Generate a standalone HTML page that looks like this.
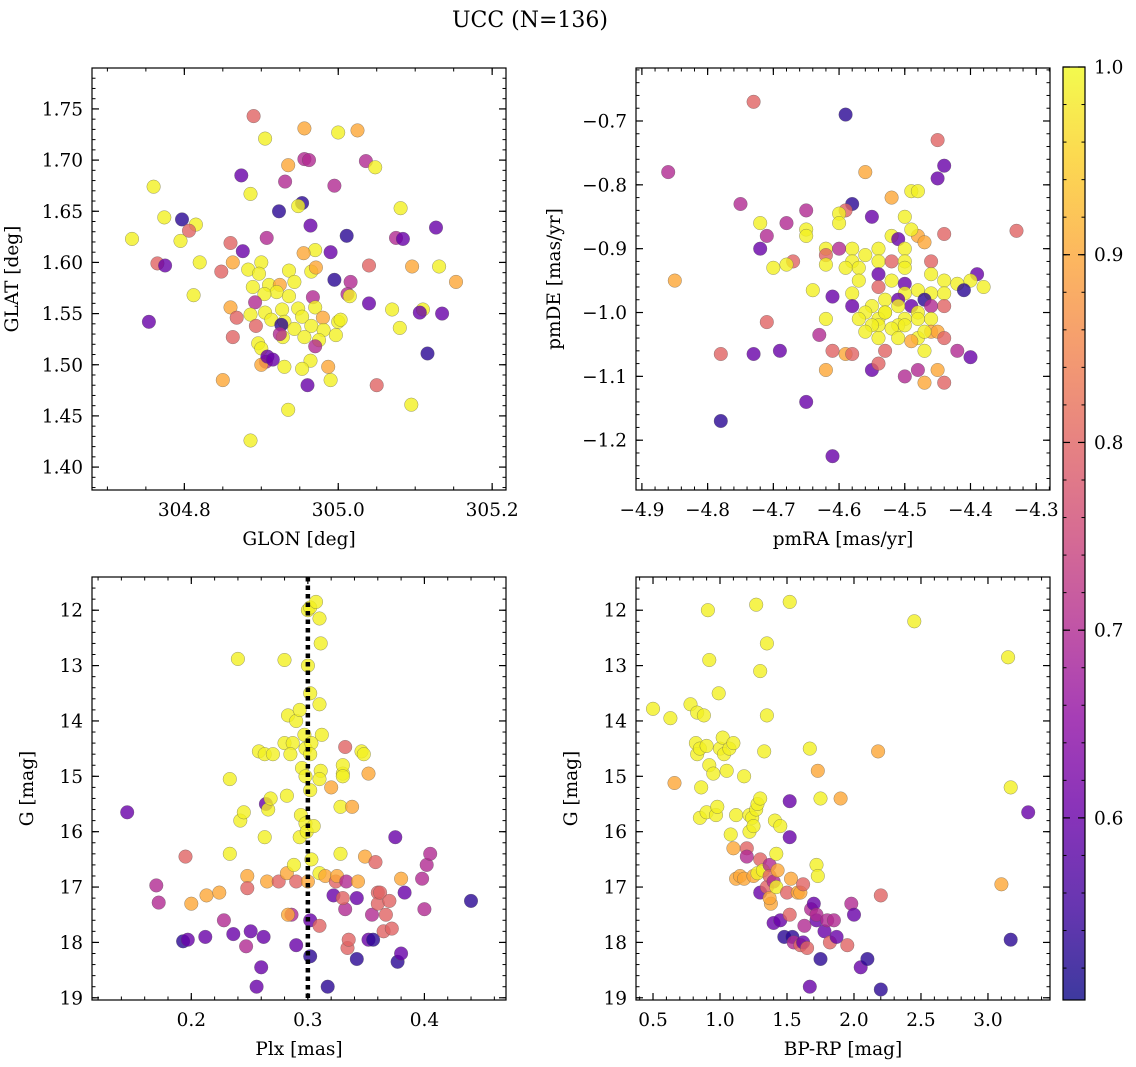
<!DOCTYPE html>
<html><head><meta charset="utf-8">
<style>
html,body{margin:0;padding:0;background:#fff;}
svg{display:block;font-family:"DejaVu Serif","Liberation Serif",serif;}
</style></head>
<body>
<svg id="chart" width="1136" height="1067" viewBox="0 0 1136 1067" xmlns="http://www.w3.org/2000/svg">
<defs>
<linearGradient id="cbgrad" x1="0" y1="1" x2="0" y2="0">
<stop offset="0" stop-color="#0d0887"/><stop offset="0.1" stop-color="#41049d"/><stop offset="0.2" stop-color="#6a00a8"/><stop offset="0.3" stop-color="#8f0da4"/><stop offset="0.4" stop-color="#b12a90"/><stop offset="0.5" stop-color="#cc4778"/><stop offset="0.6" stop-color="#e16462"/><stop offset="0.7" stop-color="#f2844b"/><stop offset="0.8" stop-color="#fca636"/><stop offset="0.9" stop-color="#fcce25"/><stop offset="1" stop-color="#f0f921"/>
</linearGradient>
</defs>
<text x="530" y="27" font-size="22" text-anchor="middle">UCC (N=136)</text>
</svg>
<script>
// color codes: Y=0.99, O=0.9, P=0.8, M=0.7, V=0.6, B=0.53
const Y=0.99,O=0.9,P=0.8,M=0.7,V=0.6,B=0.53;
const cMin=0.503, cMax=1.0;
const cbTicks=[0.6,0.7,0.8,0.9,1.0];

const glonGlat=[[304.89,1.743,P],[304.956,1.731,O],[305.025,1.729,O],[305.0,1.727,Y],[304.905,1.721,Y],[304.956,1.701,M],[304.962,1.700,M],[305.036,1.699,M],[305.048,1.693,Y],[304.935,1.695,O],[304.931,1.679,M],[304.874,1.685,V],[304.995,1.675,M],[304.760,1.674,Y],[304.886,1.667,Y],[304.953,1.658,B],[304.948,1.655,Y],[305.081,1.653,Y],[304.923,1.650,B],[304.797,1.642,B],[304.774,1.644,Y],[305.127,1.634,V],[304.815,1.637,Y],[304.806,1.631,P],[304.964,1.636,V],[304.732,1.623,Y],[305.011,1.626,B],[304.907,1.624,M],[304.795,1.621,Y],[304.860,1.619,P],[305.075,1.624,M],[305.084,1.623,V],[304.876,1.611,V],[304.970,1.612,Y],[304.955,1.609,O],[304.765,1.599,P],[304.775,1.597,V],[304.820,1.600,Y],[304.863,1.600,O],[304.9,1.6,Y],[304.99,1.61,V],[305.04,1.597,P],[305.096,1.596,O],[305.131,1.596,Y],[305.153,1.581,O],[304.848,1.591,P],[304.883,1.593,Y],[304.897,1.589,Y],[304.936,1.592,Y],[304.965,1.591,Y],[304.971,1.595,O],[304.995,1.583,B],[305.016,1.581,M],[304.943,1.581,Y],[304.91,1.578,Y],[304.889,1.576,Y],[304.924,1.578,O],[305.012,1.569,M],[305.015,1.567,Y],[304.967,1.566,M],[304.92,1.571,Y],[304.904,1.569,Y],[304.936,1.567,Y],[304.812,1.568,Y],[304.892,1.561,M],[305.04,1.56,V],[304.86,1.556,O],[304.927,1.554,Y],[304.948,1.555,Y],[304.97,1.556,Y],[304.905,1.551,Y],[304.953,1.547,Y],[305.07,1.554,Y],[305.11,1.554,Y],[305.106,1.551,V],[304.868,1.546,P],[304.886,1.549,Y],[304.913,1.544,Y],[304.93,1.542,Y],[304.98,1.546,O],[305.0,1.542,Y],[305.003,1.544,Y],[305.135,1.55,V],[304.754,1.542,V],[304.893,1.538,P],[304.943,1.535,Y],[304.965,1.538,Y],[304.981,1.534,Y],[305.08,1.536,Y],[304.926,1.539,B],[304.863,1.527,P],[304.928,1.527,Y],[304.956,1.527,Y],[304.997,1.529,Y],[304.975,1.524,Y],[304.924,1.53,M],[304.896,1.521,Y],[304.9,1.516,Y],[304.97,1.518,M],[304.906,1.503,M],[304.9,1.5,O],[304.908,1.508,V],[304.915,1.505,V],[304.964,1.504,Y],[304.93,1.498,Y],[304.953,1.496,Y],[304.987,1.498,O],[304.96,1.48,V],[304.85,1.485,O],[304.99,1.485,Y],[305.05,1.48,P],[305.116,1.511,B],[305.095,1.461,Y],[304.935,1.456,Y],[304.886,1.426,Y]];

const pmraPmde=[[-4.73,-0.67,P],[-4.59,-0.69,B],[-4.45,-0.73,P],[-4.44,-0.77,V],[-4.45,-0.79,V],[-4.86,-0.78,M],[-4.56,-0.78,O],[-4.49,-0.81,Y],[-4.48,-0.81,Y],[-4.75,-0.83,M],[-4.52,-0.82,O],[-4.58,-0.83,B],[-4.59,-0.84,P],[-4.65,-0.84,M],[-4.55,-0.85,V],[-4.60,-0.845,Y],[-4.50,-0.85,Y],[-4.72,-0.86,Y],[-4.68,-0.86,M],[-4.71,-0.88,M],[-4.65,-0.87,Y],[-4.60,-0.86,Y],[-4.65,-0.88,Y],[-4.52,-0.88,Y],[-4.51,-0.885,V],[-4.48,-0.88,O],[-4.44,-0.877,P],[-4.33,-0.872,P],[-4.49,-0.87,Y],[-4.72,-0.90,V],[-4.62,-0.90,Y],[-4.58,-0.90,Y],[-4.54,-0.90,Y],[-4.50,-0.90,Y],[-4.47,-0.89,O],[-4.62,-0.91,P],[-4.67,-0.92,P],[-4.60,-0.90,M],[-4.58,-0.92,Y],[-4.56,-0.91,Y],[-4.54,-0.92,Y],[-4.52,-0.92,P],[-4.50,-0.92,Y],[-4.62,-0.925,Y],[-4.68,-0.925,Y],[-4.70,-0.93,Y],[-4.46,-0.92,P],[-4.59,-0.93,Y],[-4.57,-0.93,Y],[-4.54,-0.94,V],[-4.50,-0.93,Y],[-4.46,-0.94,Y],[-4.44,-0.95,Y],[-4.42,-0.955,Y],[-4.44,-0.97,Y],[-4.39,-0.94,V],[-4.40,-0.95,Y],[-4.41,-0.965,B],[-4.57,-0.95,Y],[-4.52,-0.95,Y],[-4.50,-0.955,V],[-4.50,-0.97,Y],[-4.48,-0.965,Y],[-4.54,-0.96,P],[-4.61,-0.975,V],[-4.58,-0.97,Y],[-4.64,-0.965,Y],[-4.53,-0.98,Y],[-4.51,-0.98,V],[-4.46,-0.97,Y],[-4.38,-0.96,Y],[-4.55,-0.99,Y],[-4.49,-0.99,V],[-4.47,-0.98,B],[-4.58,-0.99,V],[-4.56,-1.00,Y],[-4.53,-1.00,Y],[-4.51,-0.99,Y],[-4.48,-1.00,Y],[-4.44,-0.99,P],[-4.46,-0.99,M],[-4.62,-1.01,Y],[-4.57,-1.01,Y],[-4.54,-1.01,Y],[-4.53,-1.00,Y],[-4.50,-1.01,Y],[-4.48,-1.01,Y],[-4.46,-1.01,Y],[-4.54,-1.02,Y],[-4.51,-1.02,Y],[-4.52,-1.025,Y],[-4.55,-1.02,Y],[-4.46,-1.03,O],[-4.45,-1.03,O],[-4.44,-1.04,P],[-4.56,-1.03,Y],[-4.50,-1.02,Y],[-4.51,-1.04,Y],[-4.48,-1.04,Y],[-4.47,-1.03,Y],[-4.49,-1.045,O],[-4.71,-1.015,P],[-4.63,-1.035,M],[-4.54,-1.04,Y],[-4.53,-1.06,P],[-4.61,-1.06,P],[-4.59,-1.065,O],[-4.58,-1.065,P],[-4.69,-1.06,V],[-4.78,-1.065,P],[-4.73,-1.065,V],[-4.85,-0.95,O],[-4.62,-1.09,O],[-4.55,-1.09,V],[-4.54,-1.08,P],[-4.50,-1.10,M],[-4.48,-1.09,M],[-4.47,-1.06,Y],[-4.45,-1.09,O],[-4.42,-1.06,M],[-4.40,-1.07,V],[-4.44,-1.11,P],[-4.47,-1.11,O],[-4.65,-1.14,V],[-4.78,-1.17,B],[-4.61,-1.225,V]];

const plxG=[[0.145,15.65,V],[0.17,16.97,M],[0.172,17.28,M],[0.195,16.45,P],[0.193,17.98,B],[0.197,17.95,V],[0.2,17.3,O],[0.213,17.15,O],[0.212,17.9,V],[0.224,17.1,O],[0.228,17.6,M],[0.233,15.05,Y],[0.233,16.4,Y],[0.236,17.85,V],[0.24,12.88,Y],[0.242,15.8,Y],[0.245,15.65,Y],[0.248,16.8,O],[0.248,17.02,P],[0.247,18.07,M],[0.251,17.8,V],[0.256,18.8,V],[0.26,18.45,V],[0.262,17.9,V],[0.258,14.55,Y],[0.263,14.6,Y],[0.27,14.6,Y],[0.264,15.5,V],[0.266,15.6,Y],[0.268,15.4,Y],[0.263,16.1,Y],[0.265,16.9,O],[0.275,16.9,P],[0.28,12.9,Y],[0.283,13.9,Y],[0.28,14.4,Y],[0.287,14.4,Y],[0.285,14.6,Y],[0.282,15.35,Y],[0.282,16.75,O],[0.286,17.5,M],[0.283,17.5,O],[0.288,16.6,Y],[0.29,14.0,Y],[0.29,16.9,P],[0.29,18.05,V],[0.293,16.1,Y],[0.294,15.7,Y],[0.295,14.85,Y],[0.293,13.8,Y],[0.297,14.25,Y],[0.298,14.5,Y],[0.298,15.0,Y],[0.298,15.85,Y],[0.299,16.0,Y],[0.3,12.0,Y],[0.302,11.95,Y],[0.3,13.0,Y],[0.302,13.5,Y],[0.303,14.4,Y],[0.302,14.6,Y],[0.302,15.25,Y],[0.305,15.9,Y],[0.303,16.5,Y],[0.3,16.9,O],[0.302,17.6,V],[0.302,18.25,B],[0.307,11.85,Y],[0.31,12.15,Y],[0.311,12.6,Y],[0.31,13.7,Y],[0.312,14.25,Y],[0.311,14.9,Y],[0.31,15.05,Y],[0.31,16.75,Y],[0.31,17.7,P],[0.315,16.8,O],[0.317,18.8,B],[0.32,15.2,O],[0.322,17.15,V],[0.324,16.9,P],[0.325,16.8,O],[0.328,15.55,Y],[0.328,16.4,Y],[0.33,14.95,Y],[0.33,14.8,Y],[0.33,15.0,Y],[0.332,14.47,P],[0.332,17.4,M],[0.33,17.2,P],[0.333,16.9,M],[0.334,18.1,P],[0.335,17.95,P],[0.338,15.55,O],[0.343,16.9,O],[0.342,17.2,V],[0.342,18.3,B],[0.346,14.55,Y],[0.348,14.6,Y],[0.349,16.45,O],[0.352,17.95,V],[0.355,17.5,M],[0.356,17.95,B],[0.352,14.95,O],[0.358,16.55,P],[0.36,17.1,P],[0.36,17.3,P],[0.362,17.1,P],[0.365,17.8,P],[0.367,17.5,P],[0.37,17.25,P],[0.372,17.75,P],[0.377,18.35,B],[0.375,16.1,V],[0.38,16.85,O],[0.38,18.2,V],[0.383,17.1,V],[0.398,16.85,M],[0.402,16.6,M],[0.405,16.4,M],[0.4,17.4,M],[0.44,17.25,B]];

const bprpG=[[0.50,13.78,Y],[0.63,13.95,Y],[0.66,15.12,O],[0.78,13.7,Y],[0.83,13.85,Y],[0.82,14.4,Y],[0.83,14.6,Y],[0.85,14.5,Y],[0.85,15.75,Y],[0.86,15.2,Y],[0.88,13.9,Y],[0.91,12.0,Y],[0.92,12.9,Y],[0.9,14.45,Y],[0.9,15.65,Y],[0.92,14.8,Y],[0.95,14.95,Y],[0.97,15.7,Y],[0.98,15.55,Y],[1.0,14.5,Y],[0.99,13.5,Y],[1.02,14.3,Y],[1.03,14.6,Y],[1.05,14.9,Y],[1.07,14.5,Y],[1.08,16.05,Y],[1.1,16.3,O],[1.1,14.4,Y],[1.12,15.7,Y],[1.12,16.85,O],[1.15,16.8,O],[1.18,16.85,O],[1.18,15.0,Y],[1.2,16.3,P],[1.2,16.45,M],[1.22,15.7,Y],[1.22,16.0,Y],[1.24,15.75,Y],[1.25,15.9,Y],[1.25,16.8,O],[1.27,15.6,Y],[1.28,15.5,Y],[1.27,11.9,Y],[1.3,13.1,Y],[1.3,15.4,Y],[1.3,16.5,P],[1.3,17.1,V],[1.28,16.75,Y],[1.32,16.7,Y],[1.33,14.55,Y],[1.35,12.6,Y],[1.35,13.9,Y],[1.35,17.0,P],[1.37,16.6,M],[1.37,16.8,P],[1.38,17.3,O],[1.37,17.2,O],[1.4,16.9,M],[1.4,17.65,V],[1.41,15.8,Y],[1.42,16.4,Y],[1.42,17.0,Y],[1.43,16.7,O],[1.45,15.9,Y],[1.45,17.6,V],[1.48,17.9,B],[1.5,17.1,P],[1.52,11.85,Y],[1.52,15.45,V],[1.52,16.1,V],[1.53,16.85,O],[1.52,17.5,P],[1.54,17.9,B],[1.55,18.0,M],[1.58,17.1,O],[1.6,17.1,O],[1.6,18.05,P],[1.62,16.95,P],[1.63,17.7,M],[1.62,18.0,V],[1.65,18.1,P],[1.67,18.8,V],[1.67,14.5,Y],[1.68,17.4,M],[1.7,17.3,V],[1.72,16.6,Y],[1.73,16.8,Y],[1.72,17.6,V],[1.72,17.5,M],[1.73,14.9,O],[1.75,15.4,Y],[1.75,18.3,B],[1.78,17.8,V],[1.8,17.6,M],[1.82,18.0,P],[1.85,17.6,M],[1.9,15.4,O],[1.87,17.9,V],[1.95,18.05,P],[1.98,17.3,M],[2.0,17.5,V],[2.05,18.45,V],[2.1,18.3,B],[2.18,14.55,O],[2.2,17.15,P],[2.2,18.85,B],[2.45,12.2,Y],[3.1,16.95,O],[3.15,12.85,Y],[3.17,15.2,Y],[3.17,17.95,B],[3.3,15.65,V]];

const plasma=[[13,8,135],[65,4,157],[106,0,168],[143,13,164],[177,42,144],[204,71,120],[225,100,98],[242,132,75],[252,166,54],[252,206,37],[240,249,33]];
function cmap(c){let t=(c-cMin)/(cMax-cMin);t=Math.max(0,Math.min(1,t))*10;const i=Math.min(9,Math.floor(t)),f=t-i;const a=plasma[i],b=plasma[i+1];return `rgb(${Math.round(a[0]+(b[0]-a[0])*f)},${Math.round(a[1]+(b[1]-a[1])*f)},${Math.round(a[2]+(b[2]-a[2])*f)})`;}

const svg=document.getElementById('chart');
const NS='http://www.w3.org/2000/svg';
function mk(tag,attrs,parent){const e=document.createElementNS(NS,tag);for(const k in attrs)e.setAttribute(k,attrs[k]);(parent||svg).appendChild(e);return e;}
function fmt(v,d){return v.toFixed(d).replace('-','\u2212');}
const FS=18.5;

const panels=[
 {name:'glon-glat',data:glonGlat,x0:92,x1:506,y0:68,y1:490,xmin:304.680,xmax:305.218,ymin:1.3776,ymax:1.790,invY:false,
  xmaj:[304.8,305.0,305.2],xminStep:0.05,xd:1,ymaj:[1.40,1.45,1.50,1.55,1.60,1.65,1.70,1.75],yminStep:0.01,yd:2,xlabel:'GLON [deg]',ylabel:'GLAT [deg]',yt:74},
 {name:'pmra-pmde',data:pmraPmde,x0:636,x1:1050,y0:68,y1:490,xmin:-4.909,xmax:-4.279,ymin:-1.278,ymax:-0.617,invY:false,
  xmaj:[-4.9,-4.8,-4.7,-4.6,-4.5,-4.4,-4.3],xminStep:0.02,xd:1,ymaj:[-1.2,-1.1,-1.0,-0.9,-0.8,-0.7],yminStep:0.02,yd:1,xlabel:'pmRA [mas/yr]',ylabel:'pmDE [mas/yr]',yt:76},
 {name:'plx-g',data:plxG,x0:92,x1:506,y0:577,y1:1000,xmin:0.1148,xmax:0.470,ymin:11.40,ymax:19.04,invY:true,
  xmaj:[0.2,0.3,0.4],xminStep:0.02,xd:1,ymaj:[12,13,14,15,16,17,18,19],yminStep:0.2,yd:0,xlabel:'Plx [mas]',ylabel:'G [mag]',yt:59},
 {name:'bprp-g',data:bprpG,x0:636,x1:1050,y0:577,y1:1000,xmin:0.373,xmax:3.463,ymin:11.40,ymax:19.04,invY:true,
  xmaj:[0.5,1.0,1.5,2.0,2.5,3.0],xminStep:0.1,xd:1,ymaj:[12,13,14,15,16,17,18,19],yminStep:0.2,yd:0,xlabel:'BP-RP [mag]',ylabel:'G [mag]',yt:59}
];

panels.forEach(p=>{
 const sx=v=>p.x0+(v-p.xmin)/(p.xmax-p.xmin)*(p.x1-p.x0);
 const sy=v=>p.invY? p.y0+(v-p.ymin)/(p.ymax-p.ymin)*(p.y1-p.y0) : p.y1-(v-p.ymin)/(p.ymax-p.ymin)*(p.y1-p.y0);
 const g=mk('g',{});
 
 
 const pts=mk('g',{},g);
 
 
 p.data.forEach(d=>{
  const c=mk('circle',{cx:sx(d[0]).toFixed(1),cy:sy(d[1]).toFixed(1),r:6.8,fill:cmap(d[2]),'fill-opacity':0.8,stroke:'#555','stroke-width':0.5,'stroke-opacity':0.6},pts);
  
  
 });
 if(p.name==='plx-g'){
  const l=mk('line',{x1:sx(0.3),x2:sx(0.3),y1:p.y0,y2:p.y1,stroke:'#000','stroke-width':4.5,'stroke-dasharray':'4.5,4'},g);
  
  
 }
 const fr=mk('rect',{x:p.x0,y:p.y0,width:p.x1-p.x0,height:p.y1-p.y0,fill:'none',stroke:'#000','stroke-width':1.2},g);
 
 
 const lo=Math.ceil(p.xmin/p.xminStep-1e-6),hi=Math.floor(p.xmax/p.xminStep+1e-6);
 for(let i=lo;i<=hi;i++){const X=sx(i*p.xminStep);mk('line',{x1:X,x2:X,y1:p.y1,y2:p.y1-3.5,stroke:'#000','stroke-width':1},g);mk('line',{x1:X,x2:X,y1:p.y0,y2:p.y0+3.5,stroke:'#000','stroke-width':1},g);}
 const ylo=Math.ceil(p.ymin/p.yminStep-1e-6),yhi=Math.floor(p.ymax/p.yminStep+1e-6);
 for(let i=ylo;i<=yhi;i++){const Yp=sy(i*p.yminStep);mk('line',{x1:p.x0,x2:p.x0+3.5,y1:Yp,y2:Yp,stroke:'#000','stroke-width':1},g);mk('line',{x1:p.x1,x2:p.x1-3.5,y1:Yp,y2:Yp,stroke:'#000','stroke-width':1},g);}
 p.xmaj.forEach(v=>{const X=sx(v);mk('line',{x1:X,x2:X,y1:p.y1,y2:p.y1-7,stroke:'#000','stroke-width':1.2},g);mk('line',{x1:X,x2:X,y1:p.y0,y2:p.y0+7,stroke:'#000','stroke-width':1.2},g);
  const t=mk('text',{x:X,y:p.y1+26,'font-size':FS,'text-anchor':'middle'},g);t.textContent=fmt(v,p.xd);
  
  });
 p.ymaj.forEach(v=>{const Yp=sy(v);mk('line',{x1:p.x0,x2:p.x0+7,y1:Yp,y2:Yp,stroke:'#000','stroke-width':1.2},g);mk('line',{x1:p.x1,x2:p.x1-7,y1:Yp,y2:Yp,stroke:'#000','stroke-width':1.2},g);
  const t=mk('text',{x:p.x0-9,y:Yp+6.5,'font-size':FS,'text-anchor':'end'},g);t.textContent=fmt(v,p.yd);
  
  });
 const xl=mk('text',{x:(p.x0+p.x1)/2,y:p.y1+55,'font-size':FS,'text-anchor':'middle'},g);xl.textContent=p.xlabel;
 
 
 const ycx=p.x0-p.yt,ycy=(p.y0+p.y1)/2;
 const yl=mk('text',{x:ycx,y:ycy,'font-size':FS,'text-anchor':'middle',transform:`rotate(-90 ${ycx} ${ycy})`},g);yl.textContent=p.ylabel;
 
 
});

const cb=mk('g',{});


const cbx0=1063,cbx1=1085,cby0=67,cby1=1000;
mk('rect',{x:cbx0,y:cby0,width:cbx1-cbx0,height:cby1-cby0,fill:'url(#cbgrad)','fill-opacity':0.8},cb);
mk('rect',{x:cbx0,y:cby0,width:cbx1-cbx0,height:cby1-cby0,fill:'none',stroke:'#000','stroke-width':1.2},cb);
const cy=v=>cby1-(v-cMin)/(cMax-cMin)*(cby1-cby0);
for(let v=0.52;v<=1.0001;v+=0.02){const Yp=cy(v);mk('line',{x1:cbx1,x2:cbx1-3.5,y1:Yp,y2:Yp,stroke:'#000','stroke-width':1},cb);mk('line',{x1:cbx0,x2:cbx0+3.5,y1:Yp,y2:Yp,stroke:'#000','stroke-width':1},cb);}
cbTicks.forEach(v=>{const Yp=cy(v);mk('line',{x1:cbx1,x2:cbx1-7,y1:Yp,y2:Yp,stroke:'#000','stroke-width':1.2},cb);mk('line',{x1:cbx0,x2:cbx0+7,y1:Yp,y2:Yp,stroke:'#000','stroke-width':1.2},cb);
 const t=mk('text',{x:cbx1+9,y:Yp+6.5,'font-size':FS},cb);t.textContent=v.toFixed(1);
 
 });
</script>
</body></html>
